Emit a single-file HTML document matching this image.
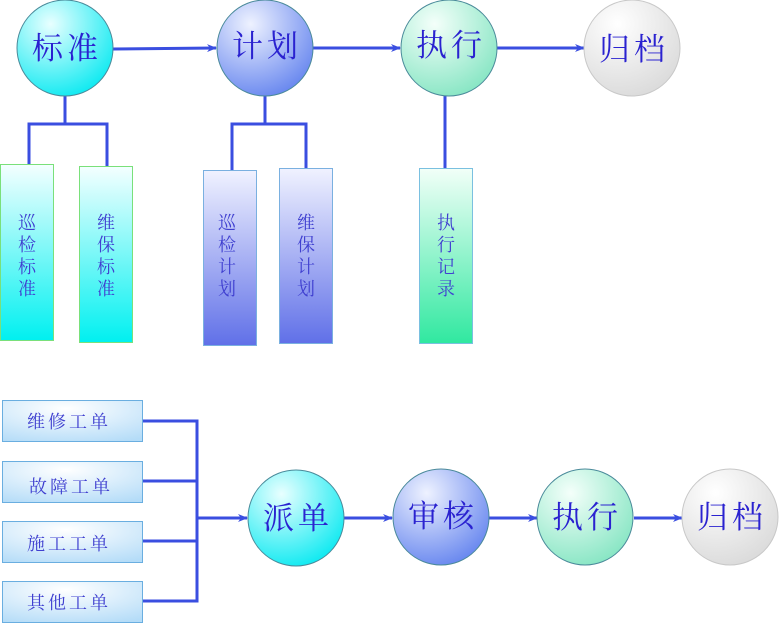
<!DOCTYPE html>
<html><head><meta charset="utf-8"><style>
html,body{margin:0;padding:0;background:#fff;}
svg{display:block;}
text{font-family:"Liberation Serif","Noto Serif CJK SC",serif;}
</style></head><body>
<svg width="779" height="625" viewBox="0 0 779 625" xmlns="http://www.w3.org/2000/svg">
<defs>
<radialGradient id="cc" cx="0.35" cy="0.25" r="0.85"><stop offset="0" stop-color="#e8ffff"/><stop offset="1" stop-color="#00e8f0"/></radialGradient>
<radialGradient id="cb" cx="0.35" cy="0.25" r="0.85"><stop offset="0" stop-color="#eef2ff"/><stop offset="1" stop-color="#5f80ee"/></radialGradient>
<radialGradient id="cg" cx="0.35" cy="0.25" r="0.85"><stop offset="0" stop-color="#f4fffa"/><stop offset="1" stop-color="#80e4c0"/></radialGradient>
<radialGradient id="cw" cx="0.35" cy="0.25" r="0.85"><stop offset="0" stop-color="#ffffff"/><stop offset="1" stop-color="#d8d8d8"/></radialGradient>
<linearGradient id="rc" x1="0" y1="0" x2="0" y2="1"><stop offset="0" stop-color="#f4ffff"/><stop offset="1" stop-color="#00f0f0"/></linearGradient>
<linearGradient id="rb" x1="0" y1="0" x2="0" y2="1"><stop offset="0" stop-color="#f0f2ff"/><stop offset="1" stop-color="#6070e8"/></linearGradient>
<linearGradient id="rg" x1="0" y1="0" x2="0" y2="1"><stop offset="0" stop-color="#f2fff8"/><stop offset="1" stop-color="#30e8a0"/></linearGradient>
<radialGradient id="rl" cx="0.45" cy="0.2" r="0.9"><stop offset="0" stop-color="#ffffff"/><stop offset="1" stop-color="#b4dcf8"/></radialGradient>
<marker id="ar" markerWidth="10" markerHeight="8" refX="9" refY="4" orient="auto" markerUnits="userSpaceOnUse"><path d="M0,0 L10,4 L0,8 L3,4 Z" fill="#3a4ee0"/></marker>
</defs>
<g stroke="#3a4ee0" stroke-width="3" fill="none">
<line x1="113" y1="49" x2="216" y2="48" marker-end="url(#ar)"/>
<line x1="313" y1="48" x2="400" y2="48" marker-end="url(#ar)"/>
<line x1="497" y1="48" x2="584" y2="48" marker-end="url(#ar)"/>
<polyline points="65,96 65,124"/><polyline points="29,165 29,124 107,124 107,166"/>
<polyline points="265,96 265,124"/><polyline points="232,170 232,124 306,124 306,168"/>
<polyline points="445,96 445,168"/>
<polyline points="142,421 197,421 197,601 142,601"/>
<line x1="142" y1="481" x2="197" y2="481"/><line x1="142" y1="541" x2="197" y2="541"/>
<line x1="197" y1="518" x2="247" y2="518" marker-end="url(#ar)"/>
<line x1="344" y1="518" x2="392" y2="518" marker-end="url(#ar)"/>
<line x1="489" y1="518" x2="537" y2="518" marker-end="url(#ar)"/>
<line x1="634" y1="518" x2="682" y2="518" marker-end="url(#ar)"/>
</g>
<g stroke="#4a8a9a" stroke-width="1">
<circle cx="65" cy="48" r="48" fill="url(#cc)"/>
<circle cx="265" cy="48" r="48" fill="url(#cb)"/>
<circle cx="449" cy="48" r="48" fill="url(#cg)"/>
<circle cx="632" cy="48" r="48" fill="url(#cw)" stroke="#c8c8c8"/>
<circle cx="296" cy="518" r="48" fill="url(#cc)"/>
<circle cx="441" cy="517" r="48" fill="url(#cb)"/>
<circle cx="585" cy="517" r="48" fill="url(#cg)"/>
<circle cx="730" cy="517" r="48" fill="url(#cw)" stroke="#c8c8c8"/>
</g>
<rect x="0.5" y="164.5" width="53" height="176" fill="url(#rc)" stroke="#7ae07a"/>
<rect x="79.5" y="166.5" width="53" height="176" fill="url(#rc)" stroke="#7ae07a"/>
<rect x="203.5" y="170.5" width="53" height="175" fill="url(#rb)" stroke="#7ab0e0"/>
<rect x="279.5" y="168.5" width="53" height="175" fill="url(#rb)" stroke="#7ab0e0"/>
<rect x="419.5" y="168.5" width="53" height="175" fill="url(#rg)" stroke="#7ac0e0"/>
<g fill="url(#rl)" stroke="#6aaee0">
<rect x="2.5" y="400.5" width="140" height="41"/>
<rect x="2.5" y="461.5" width="140" height="41"/>
<rect x="2.5" y="521.5" width="140" height="41"/>
<rect x="2.5" y="581.5" width="140" height="41"/>
</g>
<g fill="#2a22d0" font-size="31" text-anchor="middle" letter-spacing="4">
<text x="67" y="59">标准</text><text x="267" y="57">计划</text><text x="451" y="56">执行</text><text x="634" y="60">归档</text>
<text x="298" y="529">派单</text><text x="443" y="527">审核</text><text x="587" y="528">执行</text><text x="732" y="528">归档</text>
</g>
<g fill="#4040d0" font-size="18" text-anchor="middle">
<text x="27" y="229">巡</text><text x="27" y="251">检</text><text x="27" y="273">标</text><text x="27" y="295">准</text>
<text x="106" y="229">维</text><text x="106" y="251">保</text><text x="106" y="273">标</text><text x="106" y="295">准</text>
<text x="227" y="229">巡</text><text x="227" y="251">检</text><text x="227" y="273">计</text><text x="227" y="295">划</text>
<text x="306" y="229">维</text><text x="306" y="251">保</text><text x="306" y="273">计</text><text x="306" y="295">划</text>
<text x="446" y="229">执</text><text x="446" y="251">行</text><text x="446" y="273">记</text><text x="446" y="295">录</text>
</g>
<g fill="#4040d0" font-size="18" text-anchor="middle" letter-spacing="3">
<text x="69" y="428">维修工单</text><text x="71" y="493">故障工单</text><text x="69" y="550">施工工单</text><text x="69" y="609">其他工单</text>
</g>
</svg>
</body></html>
